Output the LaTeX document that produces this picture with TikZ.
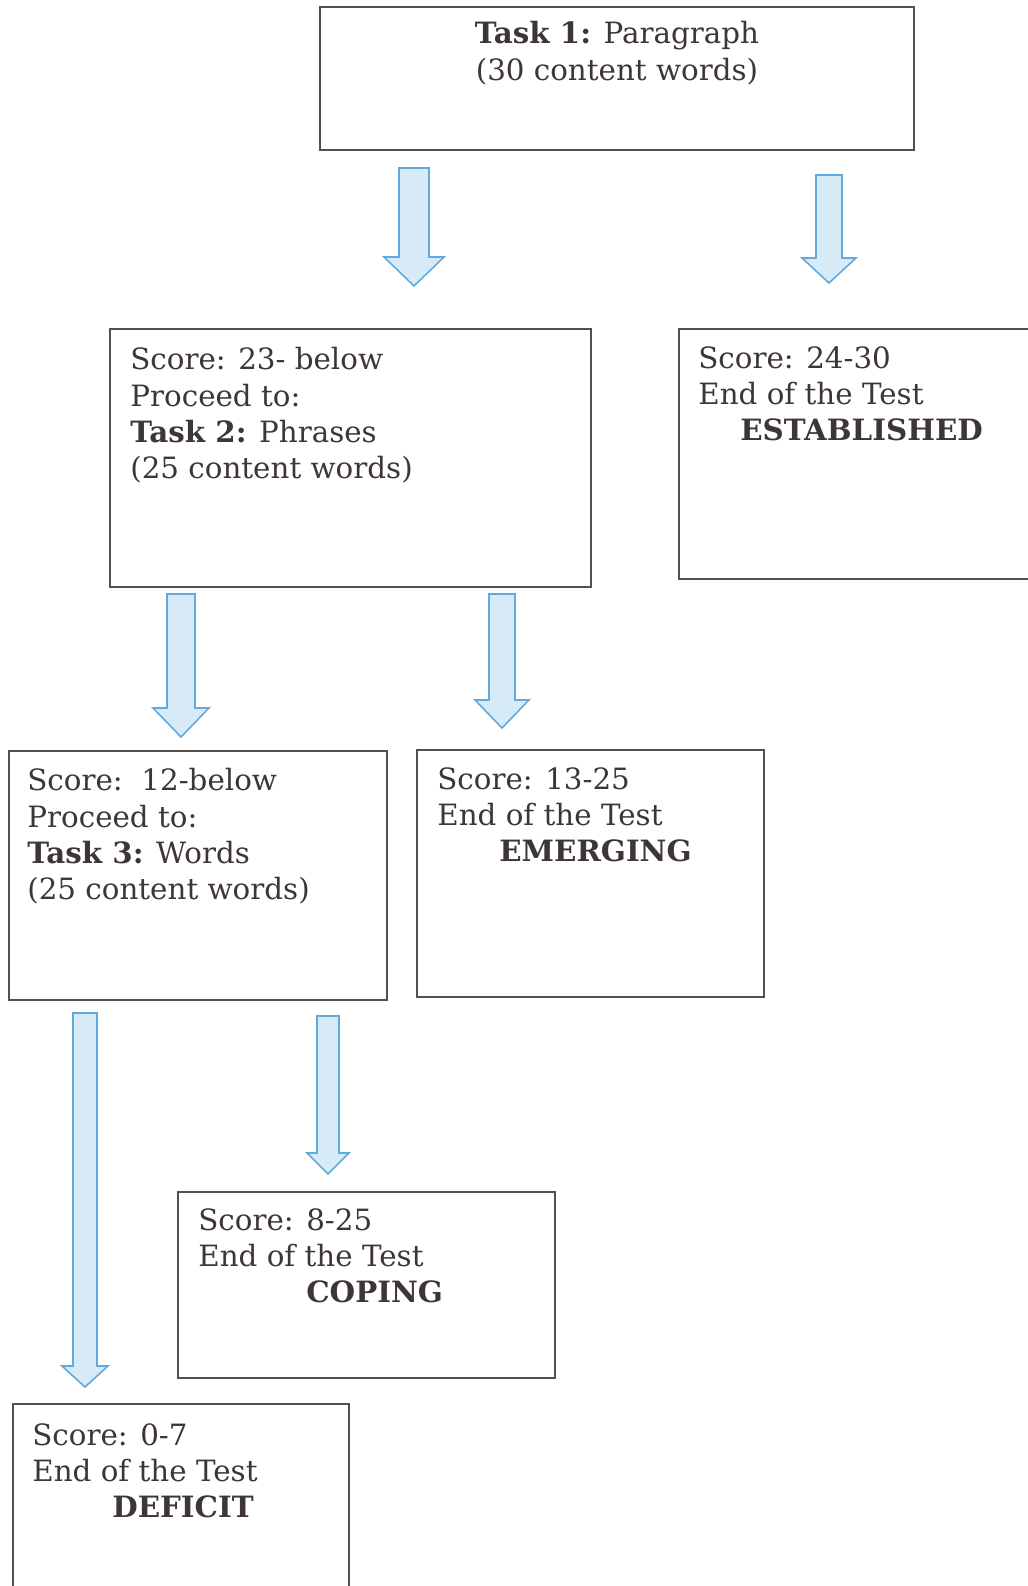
\documentclass[tikz,border=0pt]{standalone}
\usepackage{fontspec}
\setmainfont{DejaVu Serif}
\usetikzlibrary{fit,calc}

\tikzset{
  box/.style={draw=hlearn_line,line width=1.1pt,inner sep=0pt},
  boxtext/.style={anchor=north west,inner sep=0pt,align=left,text=hlearn_text,font=\fontsize{16.7}{20.7}\selectfont},
  bluearrow/.style={draw=hlearn_arrowline,fill=hlearn_arrowfill,line width=0.9pt,line join=miter},
}

\begin{document}
\begin{tikzpicture}[x=0.02cm,y=-0.02cm]
\definecolor{hlearn_line}{RGB}{88,78,78}
\definecolor{hlearn_text}{RGB}{62,54,54}
\definecolor{hlearn_arrowline}{RGB}{98,170,222}
\definecolor{hlearn_arrowfill}{RGB}{214,234,247}
\useasboundingbox (0,0) rectangle (1028,1586);
% boxes
\node[box,fit={(320,7) (914,150)}] (task1) {};
\node[box,fit={(110,329) (591,587)}] (score23) {};
\node[box,fit={(679,329) (1040,579)}] (score24) {};
\node[box,fit={(9,751) (387,1000)}] (score12) {};
\node[box,fit={(417,750) (764,997)}] (score13) {};
\node[box,fit={(178,1192) (555,1378)}] (score8) {};
\node[box,fit={(13,1404) (349,1600)}] (score0) {};
% texts
\node[boxtext,anchor=north,align=center] (task1txt) at ($(task1.north)+(0,15)$) {\textbf{Task 1:} Paragraph\\(30 content words)};
\node[boxtext] (score23txt) at ($(score23.north west)+(21,19)$) {Score: 23- below\\Proceed to:\\\textbf{Task 2:} Phrases\\(25 content words)};
\node[boxtext] (score24txt) at ($(score24.north west)+(20,18)$) {Score: 24-30\\End of the Test\\\hspace*{0.84cm}\textbf{ESTABLISHED}};
\node[boxtext] (score12txt) at ($(score12.north west)+(19,18)$) {Score:\ \ 12-below\\Proceed to:\\\textbf{Task 3:} Words\\(25 content words)};
\node[boxtext] (score13txt) at ($(score13.north west)+(21,18)$) {Score: 13-25\\End of the Test\\\hspace*{1.24cm}\textbf{EMERGING}};
\node[boxtext] (score8txt) at ($(score8.north west)+(21,17)$) {Score: 8-25\\End of the Test\\\hspace*{2.16cm}\textbf{COPING}};
\node[boxtext] (score0txt) at ($(score0.north west)+(20,20)$) {Score: 0-7\\End of the Test\\\hspace*{1.6cm}\textbf{DEFICIT}};
% arrows
\draw[bluearrow] (414-15,168) -- (414+15,168) -- (414+15,257) -- (414+30,257) -- (414,286) -- (414-30,257) -- (414-15,257) -- cycle;
\draw[bluearrow] (829-13,175) -- (829+13,175) -- (829+13,258) -- (829+27,258) -- (829,283) -- (829-27,258) -- (829-13,258) -- cycle;
\draw[bluearrow] (181-14,594) -- (181+14,594) -- (181+14,708) -- (181+28,708) -- (181,737) -- (181-28,708) -- (181-14,708) -- cycle;
\draw[bluearrow] (502-13,594) -- (502+13,594) -- (502+13,700) -- (502+27,700) -- (502,728) -- (502-27,700) -- (502-13,700) -- cycle;
\draw[bluearrow] (85-12,1013) -- (85+12,1013) -- (85+12,1366) -- (85+23,1366) -- (85,1387) -- (85-23,1366) -- (85-12,1366) -- cycle;
\draw[bluearrow] (328-11,1016) -- (328+11,1016) -- (328+11,1153) -- (328+21,1153) -- (328,1174) -- (328-21,1153) -- (328-11,1153) -- cycle;
\end{tikzpicture}
\end{document}
